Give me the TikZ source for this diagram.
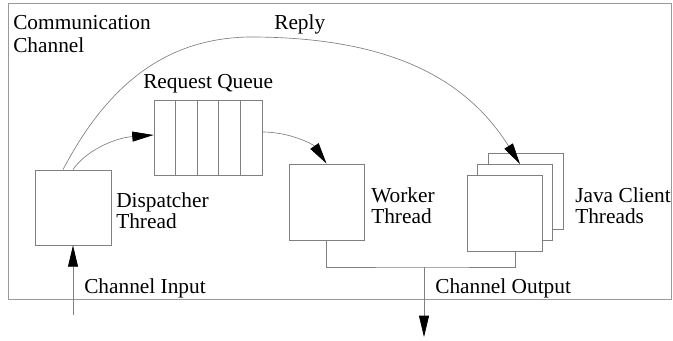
\documentclass[tikz,border=0pt]{standalone}
\usepackage{fontspec}
\setmainfont{Liberation Serif}
\usetikzlibrary{arrows.meta,positioning,calc}
\tikzset{
  thread/.style={draw=gray,fill=white,line width=0.6pt,minimum width=56.25pt,minimum height=57pt,inner sep=0pt},
  lbl/.style={anchor=base west,inner sep=0pt,align=left,font=\fontsize{16}{15.75}\selectfont},
  flow/.style={draw=gray,line width=0.5pt,-{Triangle[length=16pt,width=7.5pt,color=black]}},
  wire/.style={draw=gray,line width=0.6pt}
}
\begin{document}
\begin{tikzpicture}[x=0.75pt,y=-0.75pt]
\useasboundingbox (0,0) rectangle (673,341);
\draw[draw=gray!80,line width=0.6pt] (8,3) rectangle (671,299);
\node[lbl] (comm) at (13,53) {Communication\\[1.5pt]Channel};
\node[lbl] (replylbl) at (274,30) {Reply};
\node[lbl] (qlbl) at (143,89) {Request Queue};

\node[thread,minimum width=57pt,minimum height=56.25pt] (disp) at (73,207.5) {};
\node[thread,minimum width=81pt,minimum height=56.25pt] (queue) at (208,137.5) {};
\foreach \i in {1,...,4}
  \draw[wire] ($(queue.north west)!\i/5!(queue.north east)$) -- ($(queue.south west)!\i/5!(queue.south east)$);
\node[thread] (worker) at (326.5,202) {};
\node[thread] (java3) at (525.5,191.5) {};
\node[thread] (java2) at (515,202.5) {};
\node[thread] (java1) at (504.5,213) {};

\node[lbl] (displbl) at (116,229) {Dispatcher\\Thread};
\node[lbl] (worklbl) at (371,224) {Worker\\Thread};
\node[lbl] (javalbl) at (575,224) {Java Client\\Threads};
\node[lbl] (inlbl) at (84,294) {Channel Input};
\node[lbl] (outlbl) at (435,294) {Channel Output};

\coordinate (inp) at (73,315);
\coordinate (join) at (424,267);
\coordinate (outp) at (424,337);

\draw[flow] (inp) -- (disp.south);
\draw[flow] (disp.north) .. controls +(12,-18) and +(-40,3) .. ($(queue.west)+(0,-2.5)$);
\draw[flow] ($(queue.east)+(0,-5.5)$) .. controls +(28,0) and +(-13,-19) .. (worker.north);
\draw[flow] ($(disp.north)+(-10,0)$) .. controls (110,80) and (170,38) .. (250,37)
  .. controls (400,37) and (470,85) .. ($(java2.north)+(5,0)$);
\draw[wire] (worker.south) |- (join) -| (java1.south -| java2.center);
\draw[flow] (join) -- (outp);
\end{tikzpicture}
\end{document}
